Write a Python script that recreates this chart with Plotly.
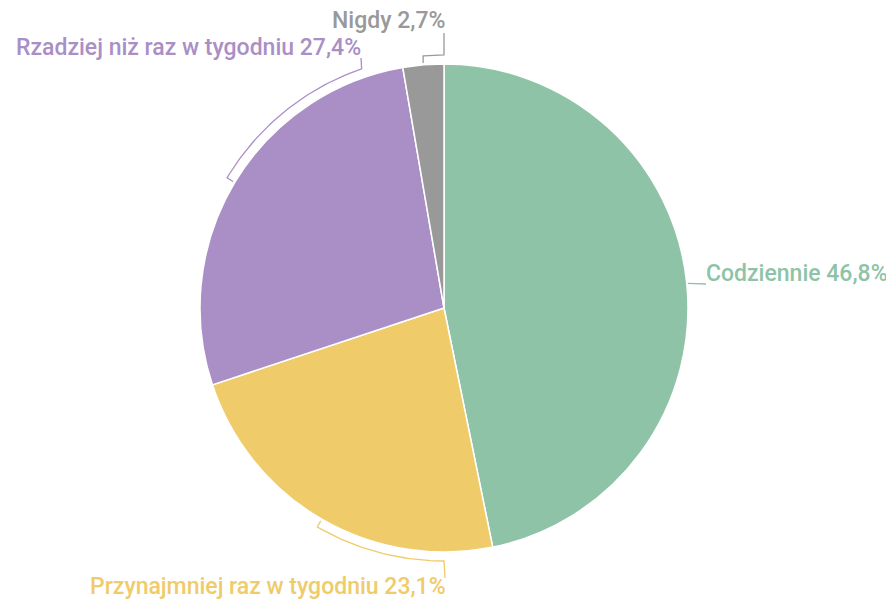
import numpy as np
import plotly.graph_objects as go

# ---- data ----
categories = ["Codziennie", "Przynajmniej raz w tygodniu", "Rzadziej niż raz w tygodniu", "Nigdy"]
values = [46.8, 23.1, 27.4, 2.7]
value_labels = ["46,8%", "23,1%", "27,4%", "2,7%"]
colors = ["#8fc3a8", "#efcb6a", "#aa8fc6", "#999999"]

# ---- layout constants (pixels, page coordinates; page has an 8px body margin) ----
OFF = 8
W, H = 894 - OFF, 602 - OFF
CX, CY, R = 444 - OFF, 308 - OFF, 244

fig = go.Figure()

fig.add_trace(go.Pie(
    labels=categories, values=values, sort=False, direction="clockwise", rotation=0,
    marker=dict(colors=colors, line=dict(color="white", width=1.5)),
    textinfo="none", hoverinfo="label+percent", showlegend=False,
    domain=dict(x=[(CX - R) / W, (CX + R) / W], y=[1 - (CY + R) / H, 1 - (CY - R) / H]),
))

# label placement in page pixels: arc end angle, connector end, annotation position
label_layout = [
    dict(end_angle=None, tip=(706, 284), x=704, y=273, xanchor="left"),
    dict(end_angle=180, tip=(445, 578), x=448, y=586, xanchor="right"),
    dict(end_angle=341, tip=(361, 58), x=363, y=47, xanchor="right"),
    dict(end_angle=360, tip=(444, 33), x=447, y=20, xanchor="right"),
]

total = sum(values)
cum = np.cumsum([0] + values[:-1])
GAP = 9


def P(r, a):
    t = np.deg2rad(a)
    return (CX + r * np.sin(t), CY - r * np.cos(t))


for i, v in enumerate(values):
    mid = (cum[i] + v / 2) / total * 360.0
    lay = label_layout[i]
    pts = []
    if lay["end_angle"] is None:
        pts.append(P(R + 1, mid))
    else:
        pts.append(P(R + 2, mid))
        for a in np.linspace(mid, lay["end_angle"], 40):
            pts.append(P(R + GAP, a))
    pts.append((lay["tip"][0] - OFF, lay["tip"][1] - OFF))
    xs, ys = zip(*pts)
    fig.add_trace(go.Scatter(x=xs, y=ys, mode="lines", line=dict(color=colors[i], width=1.3),
                             hoverinfo="skip", showlegend=False))
    fig.add_annotation(x=lay["x"] - OFF, y=lay["y"] - OFF, xref="x", yref="y",
                       xanchor=lay["xanchor"], yanchor="middle", showarrow=False,
                       text=f"{categories[i]} {value_labels[i]}",
                       font=dict(family="Roboto", size=23, color=colors[i], weight=500))

# small grey mark at right edge
fig.add_shape(type="rect", xref="paper", yref="paper",
              x0=(888 - OFF) / W, x1=1.0, y0=1 - (66 - OFF) / H, y1=1 - (55 - OFF) / H,
              fillcolor="#666666", line=dict(width=0), layer="above")

fig.update_layout(
    width=W, height=H, margin=dict(l=0, r=0, t=0, b=0),
    paper_bgcolor="white", plot_bgcolor="white",
    xaxis=dict(range=[0, W], visible=False, fixedrange=True),
    yaxis=dict(range=[H, 0], visible=False, fixedrange=True),
)

fig.write_html("out.html")
